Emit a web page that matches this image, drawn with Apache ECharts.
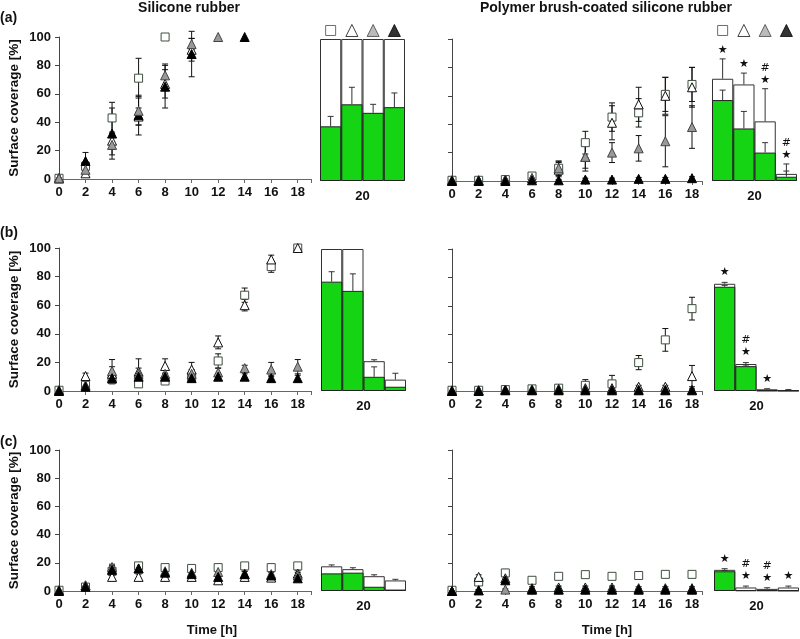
<!DOCTYPE html>
<html><head><meta charset="utf-8">
<script src="https://cdn.jsdelivr.net/npm/echarts@6/dist/echarts.min.js"></script>
<style>html,body{margin:0;padding:0;background:#fff}#c{width:800px;height:639px}</style>
</head><body><div id="c"></div>
<script>
// ---------- DATA ----------
const times = [0, 2, 4, 6, 8, 10, 12, 14, 16, 18];
const barCats = ['b1', 'b2', 'b3', 'b4'];
const xTickLabels = ['0','2','4','6','8','10','12','14','16','18'];
const barLabel = '20';

// (a) Silicone rubber
const aSR_sq = [0.5, 9, 43, 71, 100, null, null, null, null, null];
const aSR_sqE = [0, 3, 11, 14, 0, 0, 0, 0, 0, 0];
const aSR_ot = [0.5, 4, 27, 44, 67, 91, null, null, null, null];
const aSR_otE = [0, 2, 6, 6, 10, 8, 0, 0, 0, 0];
const aSR_gt = [0.5, 6.5, 24, 48, 73, 95, 100, null, null, null];
const aSR_gtE = [0, 2, 7, 10, 8, 4, 0, 0, 0, 0];
const aSR_bt = [0.5, 12.7, 32, 45, 65, 88, null, 100, null, null];
const aSR_btE = [0, 6, 18, 14, 15, 16, 0, 0, 0, 0];
// (a) Polymer brush
const aPB_sq = [0.5, 0.5, 1, 3.5, 9, 27, 45, 48, 61, 68];
const aPB_sqE = [0, 0, 0.5, 1, 5, 8, 10, 10, 12, 12];
const aPB_ot = [0.5, 0.5, 1, 2, 8, 17, 41, 54, 60, 66];
const aPB_otE = [0, 0, 0.5, 1, 5, 8, 12, 12, 13, 14];
const aPB_gt = [0.5, 0.5, 1, 2, 9, 17, 20, 23, 28, 38];
const aPB_gtE = [0, 0, 0.5, 1, 5, 10, 7, 9, 18, 15];
const aPB_bt = [0, 0, 0, 0.5, 0.5, 1, 1, 1.5, 1.5, 2];
const aPB_btE = [0, 0, 0, 0.5, 0.5, 1, 1, 1, 1, 1];
// (b) Silicone rubber
const bSR_sq = [0.5, 4, 8, 5, 7, 10, 21, 67, 87, 100];
const bSR_sqE = [0, 2, 3, 2, 2, 3, 5, 5, 4, 0];
const bSR_ot = [0.5, 10.5, 12, 13.5, 17.5, 15, 34, 60, 92, 100];
const bSR_otE = [0, 2, 5, 9, 5, 5, 4.5, 4, 3, 0];
const bSR_gt = [0.5, 4, 14, 12, 12, 12, 13, 16, 15, 17];
const bSR_gtE = [0, 2, 8, 4, 4, 3, 3, 2, 5, 5];
const bSR_bt = [0, 3, 9, 10, 10, 9, 10, 10, 9, 9];
const bSR_btE = [0, 1, 2, 2, 2, 2, 2, 2, 2, 2];
// (b) Polymer brush
const bPB_sq = [0.5, 0.5, 1, 1.5, 2, 4, 5, 20, 36, 58];
const bPB_sqE = [0, 0.5, 1, 1, 1.5, 4, 6, 5, 8, 8];
const bPB_ot = [0.5, 0.5, 1, 1, 1.5, 2, 2, 3, 3, 10.5];
const bPB_otE = [0, 0, 0.5, 1, 1.5, 1, 1, 1, 1, 7.5];
const bPB_gt = [0, 0.5, 1, 1, 1, 1, 1, 1, 1, 1];
const bPB_gtE = [0, 0.5, 0.5, 0.5, 0.5, 0.5, 0.5, 0.5, 0.5, 0.5];
const bPB_bt = [0, 0, 0.5, 0.5, 0.5, 0.5, 0.5, 0.5, 0.5, 0.5];
const bPB_btE = [0, 0, 0.5, 0.5, 0.5, 0.5, 0.5, 0.5, 0.5, 0.5];
// (c) Silicone rubber
const cSR_sq = [0.5, 2.8, 14, 17.8, 16.6, 16, 16.6, 17.8, 16.6, 17.8];
const cSR_sqE = [0, 1, 3, 1, 1, 1, 1, 1, 1, 1];
const cSR_ot = [0.5, 4, 10, 10, 10, 10, 7.6, 10, 9.5, 12.3];
const cSR_otE = [0, 1, 1, 2, 2, 2, 2, 2, 2, 2];
const cSR_gt = [0.5, 4, 17, 16, 14, 13, 13.5, 12, 12, 11];
const cSR_gtE = [0, 1, 2, 2, 2, 2, 2, 2, 2, 2];
const cSR_bt = [0, 3, 15, 16, 13, 12, 10, 12, 11, 9];
const cSR_btE = [0, 1, 3, 2, 2, 2, 2, 2, 2, 2];
// (c) Polymer brush
const cPB_sq = [0.5, 6.4, 12.8, 7.6, 10.4, 11.6, 10.4, 11, 11.8, 11.8];
const cPB_sqE = [0, 1, 2.5, 1.5, 1.5, 1, 1.5, 1, 1, 1];
const cPB_ot = [0, 10, 9, 2, 2.5, 2.5, 2.5, 2, 2, 2];
const cPB_otE = [0, 1.5, 1, 1, 1, 1, 1, 1, 1, 1];
const cPB_gt = [0, 0.5, 1, 1, 1, 1, 1, 1, 1, 1];
const cPB_gtE = [0, 0.5, 0.5, 0.5, 0.5, 0.5, 0.5, 0.5, 0.5, 0.5];
const cPB_bt = [0, 0.5, 7.6, 1, 1, 1, 1, 1, 1, 1];
const cPB_btE = [0, 0.5, 1, 0.5, 0.5, 0.5, 0.5, 0.5, 0.5, 0.5];

// Bars at 20 h : white = total, green = fraction
const aSR_white = [100, 100, 100, 100], aSR_whiteE = [0, 0, 0, 0];
const aSR_green = [38.5, 54, 48, 52], aSR_greenE = [7, 12, 6, 10];
const aPB_white = [72, 68, 42, 5], aPB_whiteE = [14, 8, 23, 7];
const aPB_green = [57, 37, 20, 3], aPB_greenE = [7, 12, 7, 4];
const aPB_star = [1, 1, 1, 1], aPB_hash = [0, 0, 1, 1];

const bSR_white = [100, 100, 21, 8], bSR_whiteE = [0, 0, 1, 4.5];
const bSR_green = [77, 70.5, 10, 3], bSR_greenE = [7, 12, 7, 0];
const bPB_white = [75.5, 19, 1.2, 0.6], bPB_whiteE = [1, 1, 0.4, 0.4];
const bPB_green = [73.4, 17.5, 0.3, 0.2], bPB_greenE = [1, 0.8, 0, 0];
const bPB_star = [1, 1, 1, 0], bPB_hash = [0, 1, 0, 0];

const cSR_white = [17.5, 15.5, 10.5, 7.5], cSR_whiteE = [1, 1, 1, 0.8];
const cSR_green = [12.5, 13, 3, 1], cSR_greenE = [0, 0, 0, 0];
const cPB_white = [15, 2.5, 1.5, 2.5], cPB_whiteE = [0.8, 1, 0.8, 1];
const cPB_green = [14, 0.5, 0.5, 0.3], cPB_greenE = [0.5, 0, 0, 0];
const cPB_star = [1, 1, 1, 1], cPB_hash = [0, 1, 1, 0];

// ---------- CHART ----------
const FONT = '"Liberation Sans", Arial, sans-serif';
const GREEN = '#14d414';
const kinds = {
  sq: { symbol: 'rect', size: 8, color: '#fff', border: '#3f4f3f' },
  ot: { symbol: 'triangle', size: 9, color: '#fff', border: '#111' },
  gt: { symbol: 'triangle', size: 9, color: '#999', border: '#444' },
  bt: { symbol: 'triangle', size: 9, color: '#000', border: '#000' }
};

const grids = [
  { left: 59, top: 37, width: 252, height: 142 },
  { left: 452, top: 39, width: 250, height: 142 },
  { left: 59, top: 248, width: 252, height: 143 },
  { left: 452, top: 249, width: 250, height: 142 },
  { left: 59, top: 450, width: 252, height: 141 },
  { left: 452, top: 450, width: 250, height: 141 },
  { left: 320, top: 39, width: 85, height: 142 },
  { left: 712, top: 39, width: 85, height: 142 },
  { left: 321, top: 249, width: 85, height: 142 },
  { left: 714, top: 249, width: 85, height: 142 },
  { left: 321, top: 450, width: 85, height: 141 },
  { left: 714, top: 450, width: 85, height: 141 }
];

const xAxes = [], yAxes = [], series = [];
const lblStyle = { fontFamily: FONT, fontWeight: 'bold', fontSize: 13, color: '#111' };

for (let i = 0; i < 6; i++) {
  const isLeft = i % 2 === 0;
  xAxes.push({
    gridIndex: i, type: 'value', min: 0, max: isLeft ? 19 : 18.75, interval: 2,
    axisLine: { lineStyle: { color: '#666', width: 1 } },
    axisTick: { length: 4, lineStyle: { color: '#666' } },
    splitLine: { show: false },
    axisLabel: Object.assign({ margin: 7, formatter: v => { const k = times.indexOf(v); return k >= 0 ? xTickLabels[k] : ''; } }, lblStyle)
  });
  yAxes.push({
    gridIndex: i, type: 'value', min: 0, max: 100, interval: 20,
    axisLine: { show: true, lineStyle: { color: '#444', width: 1 } },
    axisTick: { show: true, length: 4, lineStyle: { color: '#444' } },
    splitLine: { show: false },
    axisLabel: Object.assign({ show: isLeft, margin: 8 }, lblStyle),
    name: isLeft ? 'Surface coverage [%]' : '', nameLocation: 'middle', nameGap: 38,
    nameTextStyle: { fontFamily: FONT, fontWeight: 'bold', fontSize: 13.5, color: '#111' }
  });
}
for (let i = 6; i < 12; i++) {
  xAxes.push({
    gridIndex: i, type: 'category', data: barCats,
    axisLine: { show: false }, axisTick: { show: false }, axisLabel: { show: false },
    name: barLabel, nameLocation: 'middle', nameGap: 9,
    nameTextStyle: { fontFamily: FONT, fontWeight: 'bold', fontSize: 13, color: '#111' }
  });
  yAxes.push({ gridIndex: i, type: 'value', min: 0, max: 100, show: false });
}

function errRender(params, api) {
  const x = api.value(0), y = api.value(1), e = api.value(2);
  if (!(e > 0)) return null;
  const t = api.coord([x, y + e]), b = api.coord([x, Math.max(0, y - e)]);
  const st = { stroke: '#111', lineWidth: 1 };
  return { type: 'group', children: [
    { type: 'line', shape: { x1: t[0], y1: t[1], x2: b[0], y2: b[1] }, style: st },
    { type: 'line', shape: { x1: t[0] - 3, y1: t[1], x2: t[0] + 3, y2: t[1] }, style: st },
    { type: 'line', shape: { x1: b[0] - 3, y1: b[1], x2: b[0] + 3, y2: b[1] }, style: st }
  ]};
}

function addScatter(g, list) {
  list.forEach(([kind, vals, errs]) => {
    const k = kinds[kind];
    const pts = [], eb = [];
    times.forEach((t, j) => {
      if (vals[j] == null) return;
      pts.push([t, vals[j]]);
      if (errs[j] > 0) eb.push([t, vals[j], errs[j]]);
    });
    series.push({ type: 'custom', xAxisIndex: g, yAxisIndex: g, data: eb, encode: { x: 0, y: 1 },
      renderItem: errRender, z: 2, silent: true });
    series.push({ type: 'scatter', xAxisIndex: g, yAxisIndex: g, data: pts, symbol: k.symbol,
      symbolSize: k.size, itemStyle: { color: k.color, borderColor: k.border, borderWidth: 1, opacity: 1 },
      z: 3, silent: true, clip: false });
  });
}

function barErrRender(params, api) {
  const i = api.value(0), v = api.value(1), e = api.value(2);
  if (!(e > 0)) return null;
  const b = api.coord([i, v]), t = api.coord([i, v + e]);
  const st = { stroke: '#333', lineWidth: 1 };
  return { type: 'group', children: [
    { type: 'line', shape: { x1: b[0], y1: b[1], x2: t[0], y2: t[1] }, style: st },
    { type: 'line', shape: { x1: t[0] - 3, y1: t[1], x2: t[0] + 3, y2: t[1] }, style: st }
  ]};
}

function addBars(g, white, whiteE, green, greenE, stars, hashes, starGap) {
  series.push({ type: 'bar', xAxisIndex: g, yAxisIndex: g, data: white, barWidth: '100%',
    barGap: '-100%', barCategoryGap: '0%', itemStyle: { color: '#fff', borderColor: '#333', borderWidth: 1 },
    z: 2, silent: true });
  series.push({ type: 'bar', xAxisIndex: g, yAxisIndex: g, data: green, barWidth: '100%',
    barGap: '-100%', barCategoryGap: '0%', itemStyle: { color: GREEN, borderColor: '#222', borderWidth: 1 },
    z: 2, silent: true });
  const eb = [];
  white.forEach((v, i) => { if (whiteE[i] > 0) eb.push([i, v, whiteE[i]]); });
  green.forEach((v, i) => { if (greenE[i] > 0) eb.push([i, v, greenE[i]]); });
  series.push({ type: 'custom', xAxisIndex: g, yAxisIndex: g, data: eb, encode: { x: 0, y: 1 },
    renderItem: barErrRender, z: 4, silent: true });
  if (stars) {
    const marks = white.map((v, i) => [i, Math.max(v + whiteE[i], green[i] + greenE[i])]);
    series.push({ type: 'custom', xAxisIndex: g, yAxisIndex: g, data: marks, encode: { x: 0, y: 1 }, z: 5, silent: true,
      renderItem: (params, api) => {
        const idx = params.dataIndex;
        const p = api.coord([api.value(0), api.value(1)]);
        const ch = [];
        if (stars[idx]) ch.push({ type: 'text', x: p[0], y: p[1] - starGap, style: { text: '★', fontSize: 11, fill: '#111', align: 'center', verticalAlign: 'middle', fontFamily: 'DejaVu Sans' } });
        if (hashes[idx]) ch.push({ type: 'text', x: p[0], y: p[1] - starGap - 12, style: { text: '#', fontSize: 11, fill: '#111', align: 'center', verticalAlign: 'middle', fontFamily: 'DejaVu Sans' } });
        return { type: 'group', children: ch };
      } });
  }
}

function addLegendSymbols(g) {
  const order = ['sq', 'ot', 'gt', 'bt'];
  series.push({ type: 'scatter', xAxisIndex: g, yAxisIndex: g, clip: false, silent: true, z: 5,
    data: order.map((kname, i) => {
      const k = kinds[kname];
      return { value: [i, 106], symbol: k.symbol, symbolSize: k.symbol === 'rect' ? 10 : 12,
        itemStyle: { color: kname === 'gt' ? '#aaa' : k.color, borderColor: k.border, borderWidth: 1 } };
    }) });
}

addScatter(0, [['sq', aSR_sq, aSR_sqE], ['ot', aSR_ot, aSR_otE], ['bt', aSR_bt, aSR_btE], ['gt', aSR_gt, aSR_gtE]]);
addScatter(1, [['sq', aPB_sq, aPB_sqE], ['ot', aPB_ot, aPB_otE], ['gt', aPB_gt, aPB_gtE], ['bt', aPB_bt, aPB_btE]]);
addScatter(2, [['sq', bSR_sq, bSR_sqE], ['ot', bSR_ot, bSR_otE], ['gt', bSR_gt, bSR_gtE], ['bt', bSR_bt, bSR_btE]]);
addScatter(3, [['sq', bPB_sq, bPB_sqE], ['ot', bPB_ot, bPB_otE], ['gt', bPB_gt, bPB_gtE], ['bt', bPB_bt, bPB_btE]]);
addScatter(4, [['sq', cSR_sq, cSR_sqE], ['ot', cSR_ot, cSR_otE], ['gt', cSR_gt, cSR_gtE], ['bt', cSR_bt, cSR_btE]]);
addScatter(5, [['sq', cPB_sq, cPB_sqE], ['ot', cPB_ot, cPB_otE], ['gt', cPB_gt, cPB_gtE], ['bt', cPB_bt, cPB_btE]]);

addBars(6, aSR_white, aSR_whiteE, aSR_green, aSR_greenE, null, null, 0);
addBars(7, aPB_white, aPB_whiteE, aPB_green, aPB_greenE, aPB_star, aPB_hash, 9);
addBars(8, bSR_white, bSR_whiteE, bSR_green, bSR_greenE, null, null, 0);
addBars(9, bPB_white, bPB_whiteE, bPB_green, bPB_greenE, bPB_star, bPB_hash, 10);
addBars(10, cSR_white, cSR_whiteE, cSR_green, cSR_greenE, null, null, 0);
addBars(11, cPB_white, cPB_whiteE, cPB_green, cPB_greenE, cPB_star, cPB_hash, 10);
addLegendSymbols(6);
addLegendSymbols(7);

const txt = (text, x, y, size, align) => ({ type: 'text', x: x, y: y, silent: true,
  style: { text: text, fontFamily: FONT, fontWeight: 'bold', fontSize: size, fill: '#111', align: align || 'center', verticalAlign: 'middle' } });

const chart = echarts.init(document.getElementById('c'));
chart.setOption({
  animation: false,
  backgroundColor: '#fff',
  grid: grids,
  xAxis: xAxes,
  yAxis: yAxes,
  series: series,
  graphic: [
    txt('Silicone rubber', 189, 8, 14),
    txt('Polymer brush-coated silicone rubber', 606, 8, 14),
    txt('(a)', 0, 18, 14, 'left'),
    txt('(b)', 0, 233, 14, 'left'),
    txt('(c)', 0, 442, 14, 'left'),
    txt('Time [h]', 212, 630, 13),
    txt('Time [h]', 607, 630, 13)
  ]
});
</script></body></html>
